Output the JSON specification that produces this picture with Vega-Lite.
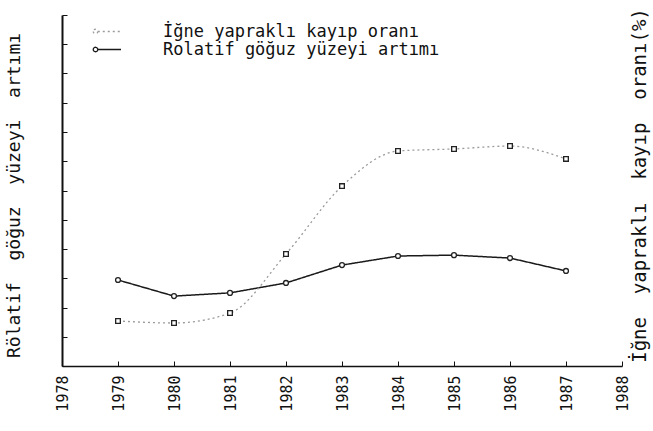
{
  "$schema": "https://vega.github.io/schema/vega-lite/v6.json",
  "width": 560,
  "height": 351,
  "autosize": {"type": "none"},
  "padding": {"left": 62, "top": 15, "right": 31, "bottom": 65},
  "background": "white",
  "config": {
    "view": {"stroke": null},
    "font": "DejaVu Sans Mono",
    "legend": {
      "orient": "none",
      "legendX": 37,
      "legendY": 8,
      "title": null,
      "padding": 0,
      "rowPadding": 0,
      "symbolType": "M-1.9,0A0.3,0.3 0 1,0 -1.3,0A0.3,0.3 0 1,0 -1.9,0M-1.3,0L1.8,0",
      "symbolSize": 225,
      "symbolStrokeWidth": 1.3,
      "labelFont": "DejaVu Sans Mono",
      "labelFontSize": 17,
      "labelOffset": 47,
      "labelColor": "#111",
      "labelLimit": 400
    }
  },
  "data": {
    "values": [
      {"year": 1979, "series": "İğne yapraklı kayıp\u00a0oranı", "value": 1.54},
      {"year": 1980, "series": "İğne yapraklı kayıp\u00a0oranı", "value": 1.47},
      {"year": 1981, "series": "İğne yapraklı kayıp\u00a0oranı", "value": 1.81},
      {"year": 1982, "series": "İğne yapraklı kayıp\u00a0oranı", "value": 3.83},
      {"year": 1983, "series": "İğne yapraklı kayıp\u00a0oranı", "value": 6.15},
      {"year": 1984, "series": "İğne yapraklı kayıp\u00a0oranı", "value": 7.35},
      {"year": 1985, "series": "İğne yapraklı kayıp\u00a0oranı", "value": 7.42},
      {"year": 1986, "series": "İğne yapraklı kayıp\u00a0oranı", "value": 7.52},
      {"year": 1987, "series": "İğne yapraklı kayıp\u00a0oranı", "value": 7.08},
      {"year": 1979, "series": "Rolatif göğuz yüzeyi artımı", "value": 2.94},
      {"year": 1980, "series": "Rolatif göğuz yüzeyi artımı", "value": 2.39},
      {"year": 1981, "series": "Rolatif göğuz yüzeyi artımı", "value": 2.5},
      {"year": 1982, "series": "Rolatif göğuz yüzeyi artımı", "value": 2.84},
      {"year": 1983, "series": "Rolatif göğuz yüzeyi artımı", "value": 3.45},
      {"year": 1984, "series": "Rolatif göğuz yüzeyi artımı", "value": 3.76},
      {"year": 1985, "series": "Rolatif göğuz yüzeyi artımı", "value": 3.79},
      {"year": 1986, "series": "Rolatif göğuz yüzeyi artımı", "value": 3.69},
      {"year": 1987, "series": "Rolatif göğuz yüzeyi artımı", "value": 3.25}
    ]
  },
  "encoding": {
    "x": {
      "field": "year",
      "type": "quantitative",
      "scale": {"domain": [1978, 1988], "nice": false, "zero": false},
      "axis": {
        "values": [1978, 1979, 1980, 1981, 1982, 1983, 1984, 1985, 1986, 1987, 1988],
        "format": "d",
        "title": null,
        "grid": false,
        "labelAngle": -90,
        "labelAlign": "right",
        "labelBaseline": "middle",
        "labelFont": "DejaVu Sans Mono",
        "labelFontSize": 15,
        "labelColor": "#111",
        "labelPadding": 14,
        "labelFlush": false,
        "labelOverlap": false,
        "tickSize": -5,
        "tickColor": "#111",
        "domainColor": "#111",
        "domainWidth": 1.5
      }
    }
  },
  "layer": [
    {
      "transform": [{"filter": "datum.series === 'Rolatif göğuz yüzeyi artımı'"}],
      "encoding": {
        "y": {
          "field": "value",
          "type": "quantitative",
          "scale": {"domain": [0, 12], "nice": false},
          "axis": {
            "values": [0, 1, 2, 3, 4, 5, 6, 7, 8, 9, 10, 11, 12],
            "labels": false,
            "grid": false,
            "tickSize": -5,
            "tickColor": "#111",
            "domainColor": "#111",
            "domainWidth": 2,
            "title": "Rölatif\u00a0\u00a0göğuz\u00a0\u00a0yüzeyi\u00a0\u00a0artımı",
            "titleFont": "DejaVu Sans Mono",
            "titleFontSize": 18,
            "titleFontWeight": "normal",
            "titleColor": "#111",
            "titlePadding": 38,
            "titleY": 180
          }
        }
      },
      "layer": [
        {
          "mark": {"type": "line", "strokeWidth": 1.5},
          "encoding": {
            "color": {"field": "series", "type": "nominal", "scale": {"domain": ["İğne yapraklı kayıp\u00a0oranı", "Rolatif göğuz yüzeyi artımı"], "range": ["#9a9a9a", "#1a1a1a"]}},
            "strokeDash": {"field": "series", "type": "nominal", "scale": {"domain": ["İğne yapraklı kayıp\u00a0oranı", "Rolatif göğuz yüzeyi artımı"], "range": [[2, 3], [1, 0]]}}
          }
        },
        {
          "mark": {"type": "point", "shape": "circle", "filled": false, "fill": "white", "fillOpacity": 1, "stroke": "#222", "strokeWidth": 1.3, "size": 24},
          "encoding": {}
        }
      ]
    },
    {
      "transform": [{"filter": "datum.series === 'İğne yapraklı kayıp\u00a0oranı'"}],
      "encoding": {
        "y": {
          "field": "value",
          "type": "quantitative",
          "scale": {"domain": [0, 12], "nice": false},
          "axis": {
            "orient": "right",
            "domain": false,
            "ticks": false,
            "labels": false,
            "grid": false,
            "title": "İğne\u00a0\u00a0yapraklı\u00a0\u00a0kayıp\u00a0\u00a0oranı(%)",
            "titleAngle": 270,
            "titleFont": "DejaVu Sans Mono",
            "titleFontSize": 19,
            "titleFontWeight": "normal",
            "titleColor": "#111",
            "titlePadding": 27,
            "titleY": 170
          }
        }
      },
      "layer": [
        {
          "mark": {"type": "line", "strokeWidth": 1.3, "interpolate": "monotone"},
          "encoding": {
            "color": {"field": "series", "type": "nominal", "scale": {"domain": ["İğne yapraklı kayıp\u00a0oranı", "Rolatif göğuz yüzeyi artımı"], "range": ["#9a9a9a", "#1a1a1a"]}},
            "strokeDash": {"field": "series", "type": "nominal", "scale": {"domain": ["İğne yapraklı kayıp\u00a0oranı", "Rolatif göğuz yüzeyi artımı"], "range": [[2, 3], [1, 0]]}}
          }
        },
        {
          "mark": {"type": "point", "shape": "square", "filled": false, "fill": "white", "fillOpacity": 1, "stroke": "#222", "strokeWidth": 1.3, "size": 22},
          "encoding": {}
        }
      ]
    }
  ],
  "resolve": {"scale": {"y": "independent"}}
}
